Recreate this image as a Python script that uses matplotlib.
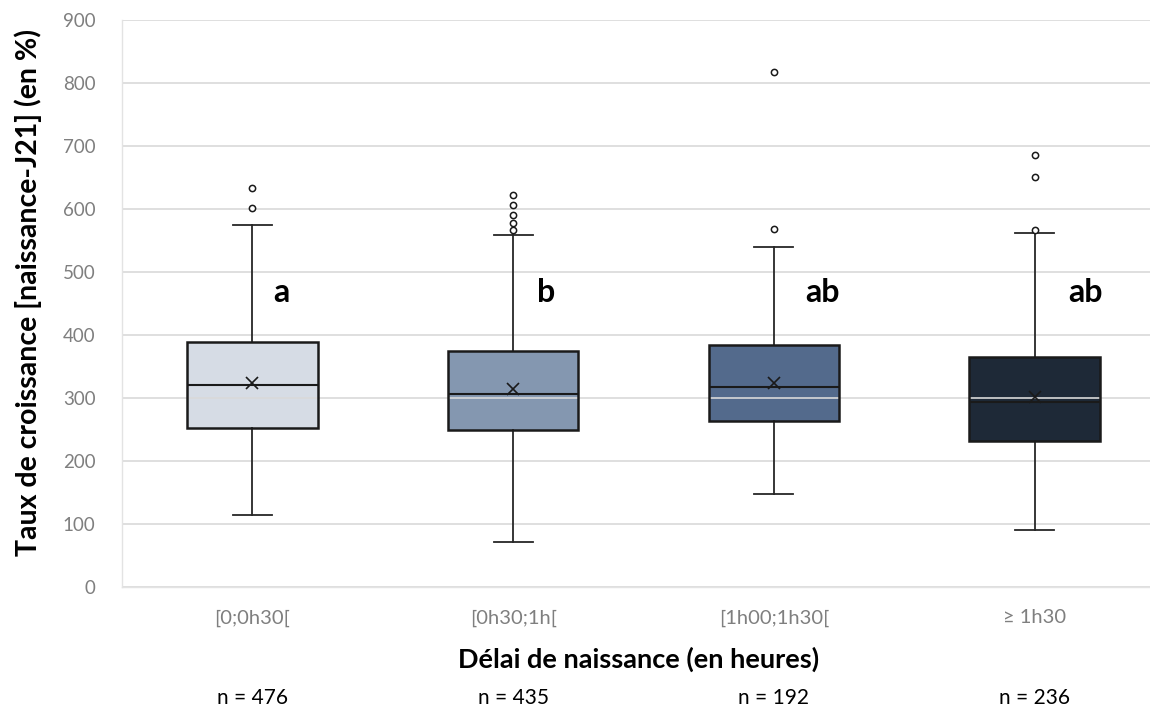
import matplotlib
matplotlib.use("Agg")
import matplotlib.pyplot as plt
from matplotlib.patches import PathPatch

plt.rcParams['font.family'] = ['Lato', 'DejaVu Sans']

categories = ["[0;0h30[", "[0h30;1h[", "[1h00;1h30[", "≥ 1h30"]
n_labels = ["n = 476", "n = 435", "n = 192", "n = 236"]
letters = ["a", "b", "ab", "ab"]
whislo = [114, 72, 147, 91]
q1 = [253, 249, 264, 232]
med = [320, 306, 317, 294]
mean = [324, 315, 324, 302]
q3 = [389, 375, 384, 365]
whishi = [574, 558, 540, 562]
fliers = [[601, 634], [566, 578, 590, 607, 623], [569, 818], [566, 651, 686]]
colors = ["#D6DCE5", "#8497B0", "#536A8C", "#1E2937"]

fig = plt.figure(figsize=(11.5, 7.11), dpi=100)
ax = fig.add_axes([122/1150, (711-587)/711, 1043/1150, 567/711])

stats = []
for i in range(4):
    stats.append(dict(whislo=whislo[i], q1=q1[i], med=med[i], q3=q3[i],
                      whishi=whishi[i], mean=mean[i], fliers=fliers[i], label=categories[i]))

pos = [0.5, 1.5, 2.5, 3.5]
bp = ax.bxp(stats, positions=pos, widths=0.5, patch_artist=True, showmeans=True,
            capwidths=0.15,
            boxprops=dict(linewidth=0),
            medianprops=dict(color="#1a1a1a", linewidth=1.5, zorder=4),
            whiskerprops=dict(color="#262626", linewidth=1.3, zorder=3),
            capprops=dict(color="#262626", linewidth=1.3, zorder=3),
            meanprops=dict(marker="x", markeredgecolor="#1a1a1a", markersize=9,
                           markeredgewidth=1.2, zorder=5),
            flierprops=dict(marker="o", markerfacecolor="white", markeredgecolor="#1a1a1a",
                            markersize=4.5, markeredgewidth=1.1, zorder=5))
for patch, c in zip(bp['boxes'], colors):
    patch.set_facecolor(c)
    patch.set_edgecolor("none")
    patch.set_zorder(1)
    outline = PathPatch(patch.get_path(), transform=patch.get_transform(),
                        fill=False, edgecolor="#1a1a1a", linewidth=1.8, zorder=4)
    ax.add_patch(outline)

ax.set_xlim(0, 4)
ax.set_ylim(0, 900)
ax.set_yticks(range(0, 901, 100))
ax.set_axisbelow('line')
ax.yaxis.grid(True, color="#d9d9d9", linewidth=1.2)
ax.tick_params(axis='both', length=0)
ax.tick_params(axis='y', labelsize=13.5, labelcolor="#7f7f7f", pad=19)
ax.tick_params(axis='x', labelsize=14.5, labelcolor="#7f7f7f", pad=16)
for s in ['top', 'right']:
    ax.spines[s].set_visible(False)
for s in ['left', 'bottom']:
    ax.spines[s].set_color("#e3e3e3")
    ax.spines[s].set_linewidth(1.0)

ax.set_ylabel("Taux de croissance [naissance-J21] (en %)", fontsize=20.5, fontweight='bold',
              color="black")
ax.yaxis.set_label_coords(-0.077, 0.52)
ax.set_xlabel("Délai de naissance (en heures)", fontsize=19.5, fontweight='bold', color="black")
ax.xaxis.set_label_coords((639-122)/1043, -(647-587)/567)

letter_dx = [0.11, 0.125, 0.185, 0.195]
for i in range(4):
    ax.text(pos[i] + letter_dx[i], 467, letters[i], fontsize=23, fontweight='bold',
            ha='center', va='center', color='black')
    ax.text(pos[i], -(698-587)/567*900, n_labels[i], fontsize=15, ha='center', va='center',
            color='black', clip_on=False)

fig.savefig("out.png", dpi=100)
